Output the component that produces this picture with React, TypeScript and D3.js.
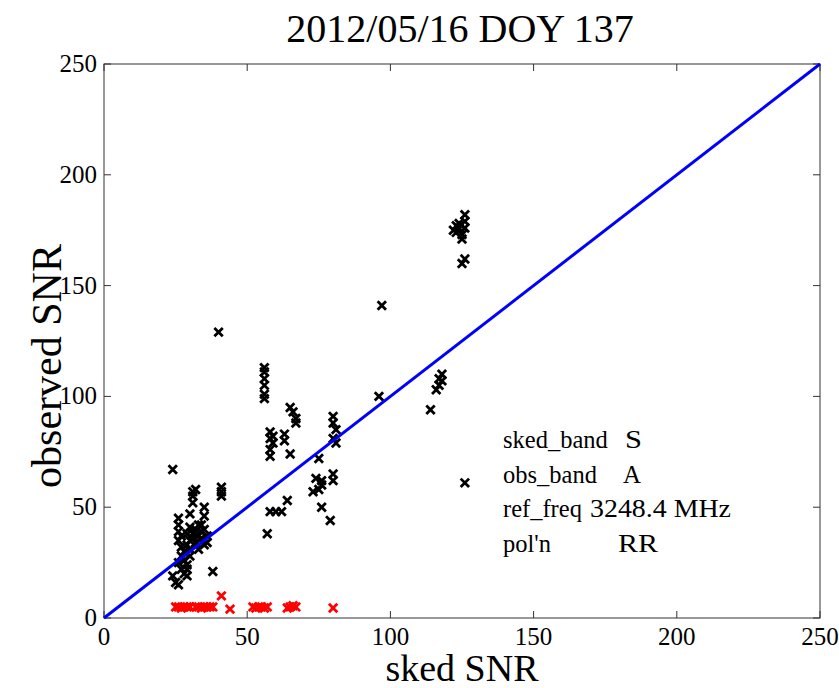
import React from 'react';
import * as d3 from 'd3';

// sked SNR vs observed SNR, black = detections, red = non-detections
const blackX = [24, 24, 25, 26, 26, 26, 26, 26, 27, 27, 26, 27, 28, 29, 28, 29, 28, 29, 30, 30, 29, 30, 31, 31, 32, 32, 33, 33, 34, 34, 35, 35, 36, 36, 30, 31, 31, 31, 32, 35, 35, 38, 41, 41, 41, 40, 29, 30, 27, 33, 34,
  56, 56, 56, 56, 56, 56, 57, 58, 58, 59, 58, 58, 59, 58, 60, 62, 63, 63, 65, 66, 67, 67, 65, 64,
  75, 74, 76, 73, 75, 76, 76, 79, 80, 80, 81, 80, 81, 80, 80,
  96, 97, 114, 116, 117, 117, 118, 118,
  122, 123, 123, 124, 124, 125, 125, 126, 126, 126, 126, 125, 126];
const blackY = [67, 19, 16, 15, 45, 42, 39, 35, 32, 28, 25, 22, 20, 19, 30, 33, 26, 24, 28, 35, 38, 41, 38, 36, 40, 34, 37, 42, 36, 39, 33, 40, 37, 34, 47, 52, 55, 57, 58, 50, 46, 21, 59, 57, 55, 129, 22, 31, 37, 31, 42,
  113, 111, 108, 105, 101, 99, 38, 84, 81, 79, 76, 73, 82, 48, 48, 48, 83, 80, 95, 93, 90, 88, 74, 53,
  72, 63, 60, 57, 58, 62, 50, 44, 91, 88, 85, 81, 79, 65, 62,
  100, 141, 94, 103, 105, 108, 110, 107,
  175, 177, 174, 178, 176, 173, 171, 176, 179, 182, 162, 160, 61];
const redX = [25, 26, 27, 28, 29, 30, 32, 33, 34, 35, 36, 37, 38, 41, 44, 52, 53, 54, 55, 56, 57, 64, 65, 66, 67, 80];
const redY = [5, 5, 4.5, 5, 5, 5, 5, 5, 4.5, 5, 5, 5, 5, 10, 4, 5, 4.5, 5, 5, 4.5, 5, 4.5, 5, 5.5, 5, 4.5];

const ticks = [0, 50, 100, 150, 200, 250];
const infoKeys = ['sked_band', 'obs_band', 'ref_freq', "pol'n"];
const infoVals = ['S', 'A', '3248.4 MHz', 'RR'];

const W = 839, H = 688;
const left = 104, right = 820, top = 64, bottom = 618;
const font = '"Liberation Serif", "Times New Roman", serif';

// where each info value starts and how wide it is drawn
const valLayout = [
  { x: 625, w: 17 },
  { x: 623, w: 18 },
  { x: 590, w: 141 },
  { x: 618, w: 40 },
];

function Cross({ cx, cy, color }) {
  const r = 4.2;
  return (
    <path d={`M${cx - r},${cy - r}L${cx + r},${cy + r}M${cx - r},${cy + r}L${cx + r},${cy - r}`}
      stroke={color} strokeWidth={2.8} fill="none" />
  );
}

export default function App() {
  const x = d3.scaleLinear().domain([0, 250]).range([left, right]);
  const y = d3.scaleLinear().domain([0, 250]).range([bottom, top]);
  const line = d3.line<number>().x(d => x(d)).y(d => y(d));

  return (
    <svg width={W} height={H} style={{ position: 'absolute', left: 0, top: 0, background: '#fff' }}
      fontFamily={font}>
      <text x={460} y={42} fontSize={40} textAnchor="middle">2012/05/16 DOY 137</text>

      {ticks.map(t => (
        <g key={'t' + t} stroke="#333" strokeWidth={1}>
          <line x1={x(t)} x2={x(t)} y1={bottom} y2={bottom - 7} />
          <line x1={x(t)} x2={x(t)} y1={top} y2={top + 7} />
          <line x1={left} x2={left + 7} y1={y(t)} y2={y(t)} />
          <line x1={right} x2={right - 7} y1={y(t)} y2={y(t)} />
        </g>
      ))}
      <rect x={left} y={top} width={right - left} height={bottom - top} fill="none" stroke="#333" strokeWidth={1} />

      {ticks.map(t => (
        <text key={'xl' + t} x={x(t)} y={645} fontSize={25} textAnchor="middle">{t}</text>
      ))}
      {ticks.map(t => (
        <text key={'yl' + t} x={97} y={y(t) + 8} fontSize={25} textAnchor="end">{t}</text>
      ))}

      <text x={462} y={681} fontSize={38} textAnchor="middle">sked SNR</text>
      <text transform={`translate(61,366) rotate(-90)`} fontSize={42} textAnchor="middle">observed SNR</text>

      {blackX.map((v, i) => (
        <Cross key={'b' + i} cx={x(v)} cy={y(blackY[i])} color="#000" />
      ))}
      {redX.map((v, i) => (
        <Cross key={'r' + i} cx={x(v)} cy={y(redY[i])} color="#ff0000" />
      ))}

      <path d={line([0, 250]) || ''} stroke="#0000ff" strokeWidth={3} fill="none" />

      {infoKeys.map((k, i) => (
        <g key={k} fontSize={24.5}>
          <text x={503} y={448 + i * 34.7}>{k}</text>
          <text x={valLayout[i].x} y={448 + i * 34.7} textLength={valLayout[i].w}
            lengthAdjust="spacingAndGlyphs">{infoVals[i]}</text>
        </g>
      ))}
    </svg>
  );
}
